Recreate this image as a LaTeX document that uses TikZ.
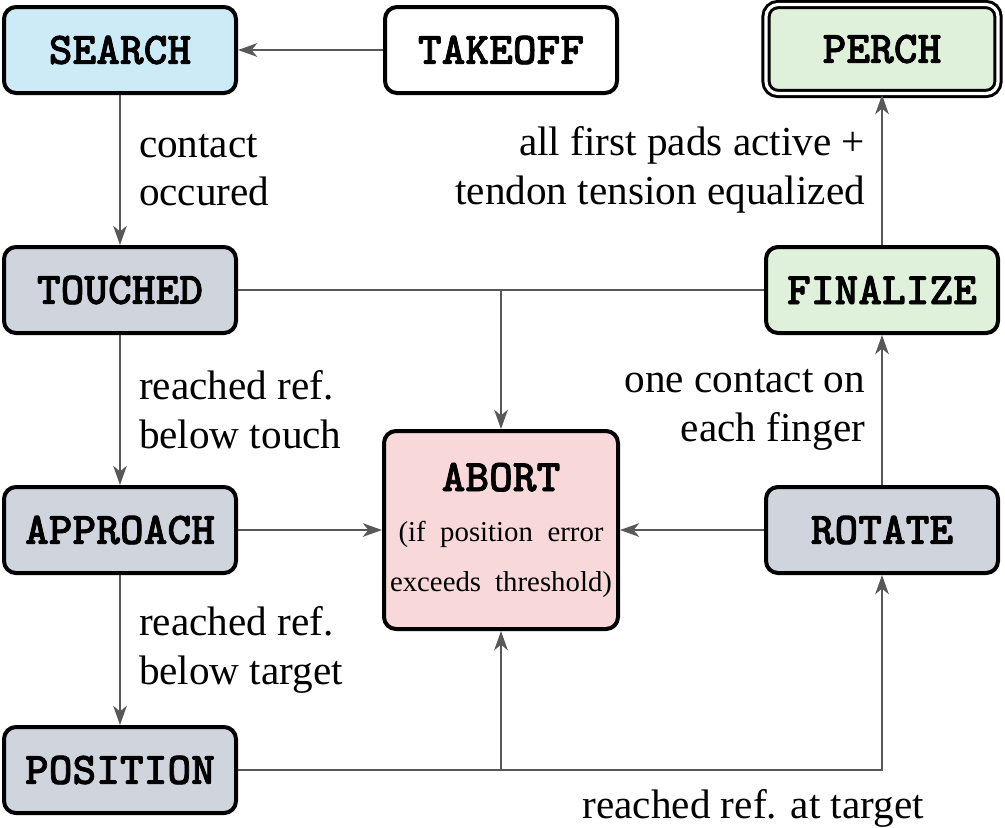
\documentclass[tikz,border=0pt]{standalone}
\usepackage{fontspec}
\setmainfont{Liberation Serif}
\newfontfamily\statefont{lmmonolt10-bold.otf}[FakeBold=1.6]
\usetikzlibrary{arrows.meta}

\definecolor{searchblue}{RGB}{205,235,246}
\definecolor{donegreen}{RGB}{223,241,218}
\definecolor{stategray}{RGB}{208,213,221}
\definecolor{abortred}{RGB}{248,216,216}
\definecolor{edgegray}{RGB}{88,88,88}

\newcommand{\statefnt}{\statefont\fontsize{11.3}{12.5}\selectfont}

\tikzset{
  state/.style={draw=black, line width=1pt, rounded corners=3pt, inner sep=0pt,
    minimum width=58pt, minimum height=21.5pt, font=\statefnt},
  trans/.style={draw=edgegray, line width=0.5pt, -{Stealth[length=4.8pt,width=3.4pt,inset=1.4pt]}},
  plain/.style={draw=edgegray, line width=0.5pt},
  cond/.style={inner sep=0pt, font=\fontsize{10.3}{12.2}\selectfont}
}

\begin{document}
\begin{tikzpicture}[x=0.25pt,y=0.25pt,yscale=-1,xscale=1]
\useasboundingbox (0,0) rectangle (1005,827);

%States
\node [state, fill=searchblue] (search) at (120,50) {SEARCH};
\node [state, fill=white] (takeoff) at (501,50) {TAKEOFF};
\node [state, fill=donegreen, line width=0.75pt, double, double distance=0.8pt,
  minimum width=58pt, minimum height=22.25pt] (perch) at (882,49) {PERCH};
\node [state, fill=stategray] (touched) at (120,290) {TOUCHED};
\node [state, fill=donegreen] (finalize) at (882,290) {FINALIZE};
\node [state, fill=stategray] (approach) at (120,530) {APPROACH};
\node [state, fill=stategray] (rotate) at (882,530) {ROTATE};
\node [state, fill=stategray] (position) at (120,770) {POSITION};

%Abort state
\node [state, fill=abortred, minimum width=58.5pt, minimum height=49.5pt, align=center,
  font=\fontsize{7.2}{12.5}\selectfont] (abort) at (501,530)
  {{\statefnt ABORT}\\
   \makebox[51.25pt][s]{(if position error}\\
   \makebox[55.5pt][s]{exceeds threshold)}};

%Transitions
\draw [trans] (takeoff) -- (search);
\draw [trans] (search) -- node [cond, right=4.5pt, align=left] {contact\\occured} (touched);
\draw [trans] (touched) -- node [cond, right=4.5pt, align=left] {reached ref.\\below touch} (approach);
\draw [trans] (approach) -- node [cond, right=4.5pt, align=left] {reached ref.\\below target} (position);
\draw [trans] (rotate) -- node [cond, left=4pt, align=right] {one contact on\\each finger} (finalize);
\draw [trans] (finalize) -- node [cond, left=4pt, align=right] {all first pads active +\\tendon tension equalized} (perch);
\draw [trans] (position) -| node [cond, pos=0.4, below=4.5pt] {reached ref. at target} (rotate);

%Abort branches
\draw [plain] (touched) -- (finalize);
\draw [trans] (touched -| abort) -- (abort);
\draw [trans] (approach) -- (abort);
\draw [trans] (rotate) -- (abort);
\draw [trans] (position -| abort) -- (abort);

\end{tikzpicture}
\end{document}
